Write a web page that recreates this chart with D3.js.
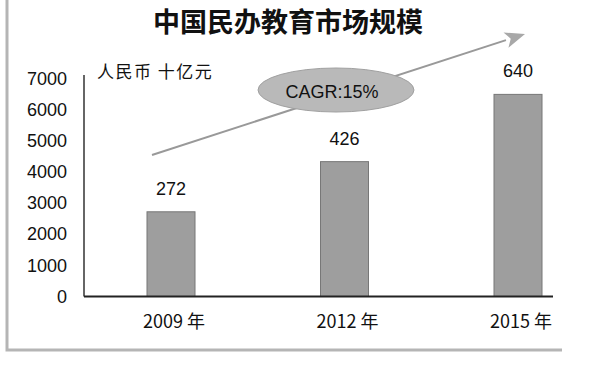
<!DOCTYPE html>
<html>
<head>
<meta charset="utf-8">
<script src="https://cdn.jsdelivr.net/npm/d3@7"></script>
<style>
  body { margin: 0; background: #fff; }
  svg { display: block; font-family: "Liberation Sans", Arial, sans-serif; }
  .cjk { font-family: "Noto Sans CJK SC", sans-serif; }
</style>
</head>
<body>
<div id="chart"></div>
<script>
// chart data
const years = ["2009 年", "2012 年", "2015 年"];
const values = [2720, 4330, 6490];
const valueLabels = ["272", "426", "640"];
const yTicks = [0, 1000, 2000, 3000, 4000, 5000, 6000, 7000];
const title = "中国民办教育市场规模";
const unit = "人民币 十亿元";
const cagr = "CAGR:15%";

const width = 608, height = 373;

const svg = d3.select("#chart").append("svg")
    .attr("width", width)
    .attr("height", height);

// frame (left and bottom)
svg.append("path")
    .attr("d", "M7,0 V350 H562")
    .attr("fill", "none")
    .attr("stroke", "#b5b5b5")
    .attr("stroke-width", 3);

const x = d3.scalePoint(years, [171, 518]);
const y = d3.scaleLinear([0, 7000], [296.5, 78.5]);
const barW = 48;

// title
svg.append("text")
    .attr("class", "cjk")
    .attr("x", 288)
    .attr("y", 32)
    .attr("text-anchor", "middle")
    .attr("font-size", 27)
    .attr("font-weight", "bold")
    .attr("fill", "#111")
    .text(title);

// y axis labels
const yAxis = svg.append("g")
    .attr("transform", "translate(71,0)")
    .call(d3.axisLeft(y).tickValues(yTicks).tickSize(0).tickPadding(4).tickFormat(d3.format("d")));
yAxis.select(".domain").remove();
yAxis.selectAll("text")
    .attr("font-size", 18)
    .attr("fill", "#111")
    .attr("font-family", "'Liberation Sans', Arial, sans-serif");

// unit label
svg.append("text")
    .attr("class", "cjk")
    .attr("x", 97)
    .attr("y", 78)
    .attr("font-size", 17)
    .attr("letter-spacing", 1.5)
    .attr("fill", "#111")
    .text(unit);

// bars
svg.append("g")
    .selectAll("rect")
    .data(values)
    .join("rect")
    .attr("x", (d, i) => x(years[i]) - barW / 2)
    .attr("y", d => y(d))
    .attr("width", barW)
    .attr("height", d => y(0) - y(d))
    .attr("fill", "#9e9e9e")
    .attr("stroke", "#777")
    .attr("stroke-width", 1);

// value labels
svg.append("g")
    .selectAll("text")
    .data(values)
    .join("text")
    .attr("x", (d, i) => x(years[i]))
    .attr("y", d => y(d) - 17)
    .attr("text-anchor", "middle")
    .attr("font-size", 18)
    .attr("fill", "#111")
    .text((d, i) => valueLabels[i]);

// axis lines
svg.append("line")
    .attr("x1", 84).attr("x2", 84)
    .attr("y1", 75).attr("y2", y(0))
    .attr("stroke", "#333").attr("stroke-width", 1.5);
svg.append("line")
    .attr("x1", 84).attr("x2", 553)
    .attr("y1", y(0)).attr("y2", y(0))
    .attr("stroke", "#222").attr("stroke-width", 2);

// x labels
svg.append("g")
    .selectAll("text")
    .data(years)
    .join("text")
    .attr("class", "cjk")
    .attr("x", d => x(d) + 3)
    .attr("y", 328)
    .attr("text-anchor", "middle")
    .attr("font-size", 18)
    .attr("fill", "#111")
    .text(d => d);

// growth arrow
const a0 = [152, 155], a1 = [525, 34];
const ang = Math.atan2(a1[1] - a0[1], a1[0] - a0[0]);
const headLen = 20, headW = 8;
const base = [a1[0] - headLen * Math.cos(ang), a1[1] - headLen * Math.sin(ang)];
svg.append("line")
    .attr("x1", a0[0]).attr("y1", a0[1])
    .attr("x2", base[0]).attr("y2", base[1])
    .attr("stroke", "#999").attr("stroke-width", 2);
svg.append("path")
    .attr("d", d3.line()([
        a1,
        [base[0] + headW * Math.sin(ang), base[1] - headW * Math.cos(ang)],
        [base[0] + 5 * Math.cos(ang), base[1] + 5 * Math.sin(ang)],
        [base[0] - headW * Math.sin(ang), base[1] + headW * Math.cos(ang)]
    ]) + "Z")
    .attr("fill", "#a8a8a8");

// CAGR bubble
svg.append("ellipse")
    .attr("cx", 336).attr("cy", 90)
    .attr("rx", 78).attr("ry", 22)
    .attr("fill", "#b9b9b9")
    .attr("stroke", "#a0a0a0")
    .attr("stroke-width", 1);
svg.append("text")
    .attr("x", 332)
    .attr("y", 98)
    .attr("text-anchor", "middle")
    .attr("font-size", 18)
    .attr("fill", "#111")
    .text(cagr);
</script>
</body>
</html>
